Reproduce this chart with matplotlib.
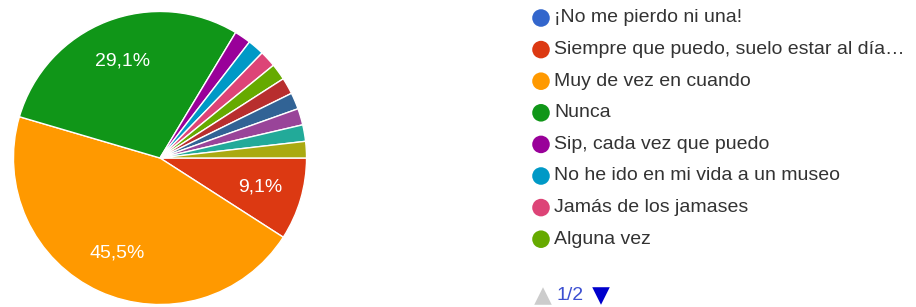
import matplotlib
matplotlib.use("Agg")
import matplotlib.pyplot as plt

plt.rcParams['font.family'] = ['Liberation Sans', 'DejaVu Sans']

labels = ["¡No me pierdo ni una!", "Siempre que puedo, suelo estar al día…",
          "Muy de vez en cuando", "Nunca", "Sip, cada vez que puedo",
          "No he ido en mi vida a un museo", "Jamás de los jamases", "Alguna vez",
          "", "", "", "", ""]
counts = [0, 5, 25, 16, 1, 1, 1, 1, 1, 1, 1, 1, 1]
colors = ["#3366cc", "#dc3912", "#ff9900", "#109618", "#990099", "#0099c6",
          "#dd4477", "#66aa00", "#b82e2e", "#316395", "#994499", "#22aa99", "#aaaa11"]
page_label = "1/2"
legend_n = 8

W, H, DPI = 916, 307, 100
fig = plt.figure(figsize=(W / DPI, H / DPI), dpi=DPI)

# pie: centre (160,158) px, radius 148 px
cx, cy, r = 160, 158, 148
ax = fig.add_axes([(cx - r) / W, (H - cy - r) / H, 2 * r / W, 2 * r / H])


def fmt(p):
    return ("%.1f%%" % p).replace(".", ",") if p > 5 else ""


wedges, texts, autotexts = ax.pie(
    counts, colors=colors, startangle=0, counterclock=False,
    autopct=fmt, pctdistance=0.71, radius=1.0,
    wedgeprops=dict(edgecolor="white", linewidth=1.0))
for t in autotexts:
    t.set_color("white")
    t.set_fontsize(14)
ax.set_xlim(-1.01, 1.01)
ax.set_ylim(-1.01, 1.01)
ax.set_aspect("equal")
ax.axis("off")

# legend drawn in pixel coords
lg = fig.add_axes([0, 0, 1, 1])
lg.set_xlim(0, W)
lg.set_ylim(H, 0)
lg.axis("off")
y0, dy = 18, 31.6
for i in range(legend_n):
    y = y0 + i * dy
    lg.scatter([541], [y], s=160, color=colors[i], edgecolors="none")
    lg.text(554, y, labels[i], fontsize=14, color="#333333", va="center", ha="left")

lg.scatter([543], [296], marker="^", s=160, color="#cccccc", edgecolors="none")
lg.text(556, 296, page_label, fontsize=14, color="#3c4fd1", va="center", ha="left")
lg.scatter([601], [296], marker="v", s=160, color="#0000cc", edgecolors="none")

fig.savefig("out.png", dpi=DPI)
